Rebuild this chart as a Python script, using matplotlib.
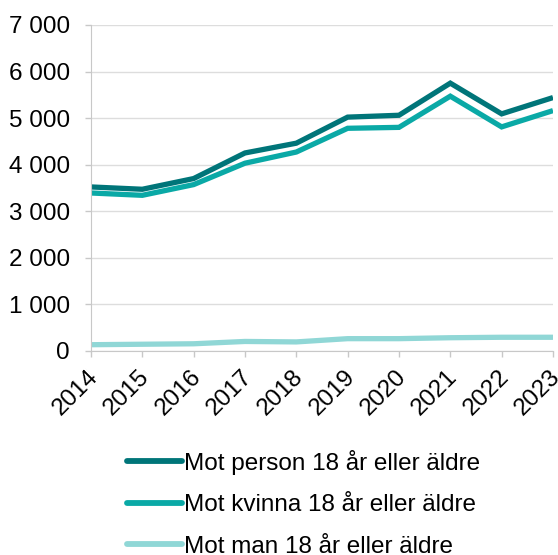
import matplotlib
matplotlib.use("Agg")
import matplotlib.pyplot as plt
import matplotlib.transforms as mtransforms
from matplotlib.ticker import FuncFormatter

plt.rcParams['font.family'] = ['Liberation Sans', 'DejaVu Sans']

years = [2014, 2015, 2016, 2017, 2018, 2019, 2020, 2021, 2022, 2023]
person = [3520, 3470, 3700, 4250, 4460, 5020, 5060, 5750, 5090, 5440]
kvinna = [3390, 3340, 3570, 4030, 4270, 4780, 4800, 5470, 4810, 5160]
man = [130, 140, 150, 200, 190, 260, 260, 280, 290, 290]
labels = ["Mot person 18 år eller äldre", "Mot kvinna 18 år eller äldre", "Mot man 18 år eller äldre"]
colors = ["#007579", "#0AA9A6", "#90D7D6"]

fig = plt.figure(figsize=(5.58, 5.55), dpi=100)
ax = fig.add_axes([0.163, 0.368, 0.828, 0.587])

for vals, lab, c in zip([person, kvinna, man], labels, colors):
    ax.plot(years, vals, color=c, lw=3.8, label=lab, solid_capstyle='butt', solid_joinstyle='miter')

ax.set_xlim(2014, 2023)
ax.set_ylim(0, 7000)
ax.set_yticks(range(0, 7001, 1000))
ax.yaxis.set_major_formatter(FuncFormatter(lambda v, p: f"{int(v):,}".replace(",", " ")))
ax.set_xticks(years)
ax.set_xticklabels([str(y) for y in years], rotation=45, ha='right', rotation_mode='anchor')

ax.grid(axis='y', color='#DDDDDD', lw=1)
ax.set_axisbelow(True)
for s in ['top', 'right']:
    ax.spines[s].set_visible(False)
ax.spines['left'].set_color('#C8C8C8')
ax.spines['bottom'].set_color('#C8C8C8')
ax.tick_params(axis='both', colors='#C8C8C8', labelcolor='black', length=4.5, width=1)
ax.tick_params(axis='y', labelsize=17.5, pad=10.5)
ax.tick_params(axis='x', labelsize=17.5, pad=4)

offset = mtransforms.ScaledTranslation(-0.04, -0.03, fig.dpi_scale_trans)
for lbl in ax.get_xticklabels():
    lbl.set_transform(lbl.get_transform() + offset)

leg = fig.legend(loc='upper left', bbox_to_anchor=(0.211, 0.207), frameon=False, fontsize=17.5,
                 handlelength=2.25, handletextpad=0.08, labelspacing=0.8, borderaxespad=0)
for h in leg.get_lines():
    h.set_linewidth(4.2)
    h.set_solid_capstyle('round')

fig.savefig("out.png", dpi=100)
